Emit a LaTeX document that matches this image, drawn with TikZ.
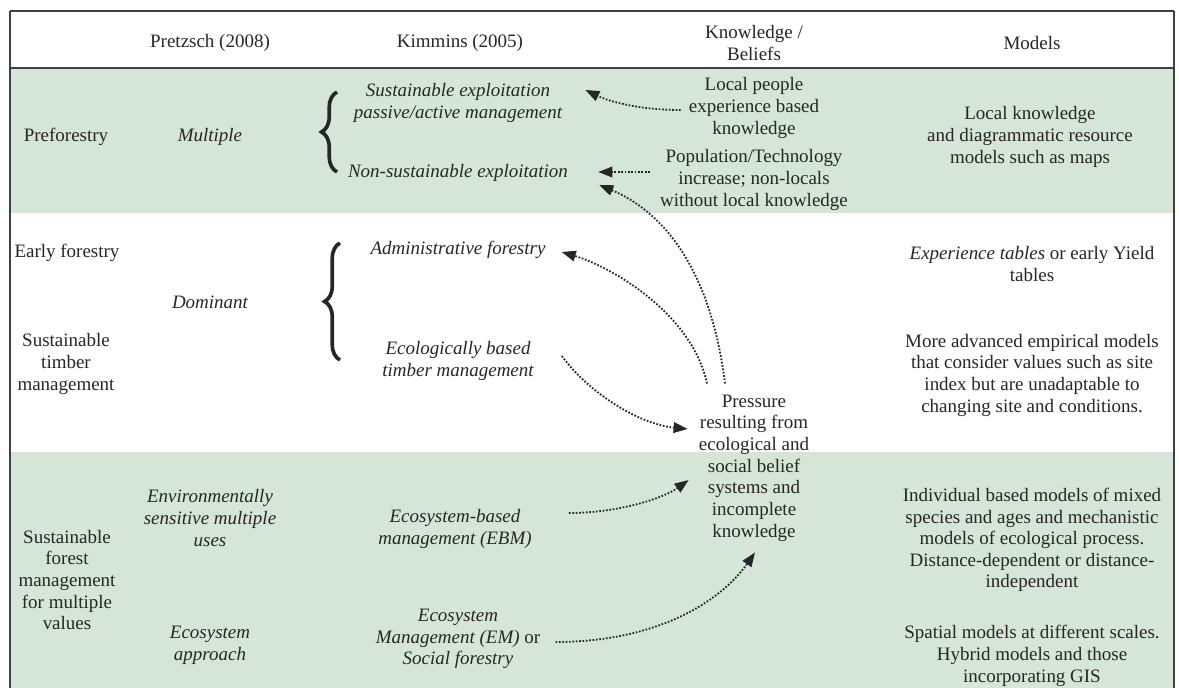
\documentclass[tikz,border=0pt]{standalone}
\usepackage{fontspec}
\setmainfont{Liberation Serif}
\usetikzlibrary{arrows.meta}
\usetikzlibrary{decorations.pathreplacing}
\definecolor{rowgreen}{RGB}{213,230,217}
\definecolor{ink}{RGB}{38,38,38}
\tikzset{%
  t/.style = {align=center,inner sep=0pt,text=ink,
        font=\fontsize{13.5}{15.4}\selectfont},
  ti/.style = {t,font=\fontsize{13.5}{15.4}\selectfont\itshape},
  dotarrow/.style = {-{Triangle[length=10pt,width=7.5pt]},ink,
        line width=1.3pt,dash pattern=on 1.2pt off 1.2pt},
  bigbrace/.style = {decorate,decoration={brace,amplitude=11pt},
        line width=2.6pt,ink},
  frame/.style = {line width=1.3pt,black!75}
}

\begin{document}
\begin{tikzpicture}[x=0.025cm,y=-0.025cm]
   \useasboundingbox (0,0) rectangle (1179,688);
   % bands of the table
   \fill[rowgreen] (10,68) rectangle (1174,213);
   \fill[rowgreen] (10,452) rectangle (1174,688);
   \draw[frame] (10,11) -- (1174,11);
   \draw[frame] (10,68) -- (1174,68);
   \draw[frame] (10,11) -- (10,688);
   \draw[frame,line width=2pt] (1174,11) -- (1174,688);

   % header
   \node[t] (hdprz) at (210,43) {Pretzsch (2008)};
   \node[t] (hdkim) at (460,43) {Kimmins (2005)};
   \node[t] (hdknw) at (754,43) {Knowledge /\\Beliefs};
   \node[t] (hdmod) at (1032,43) {Models};

   % preforestry
   \node[t] (pref) at (66,137) {Preforestry};
   \node[ti] (mult) at (210,137) {Multiple};
   \node[ti] (sustexp) at (458,103) {Sustainable exploitation\\passive/active management};
   \node[ti] (nonsust) at (458,173) {Non-sustainable exploitation};
   \node[t] (local) at (754,108) {Local people\\experience based\\knowledge};
   \node[t] (poptech) at (754,180) {Population/Technology\\increase; non-locals\\without local knowledge};
   \node[t] (locmod) at (1030,137) {Local knowledge\\and diagrammatic resource\\models such as maps};

   % early forestry
   \node[t] (early) at (67,253) {Early forestry};
   \node[t] (stm) at (66,364) {Sustainable\\timber\\management};
   \node[ti] (domin) at (210,302) {Dominant};
   \node[ti] (admin) at (458,250) {Administrative forestry};
   \node[ti] (ecotim) at (458,361) {Ecologically based\\timber management};
   \node[t] (exptab) at (1032,264) {\textit{Experience tables} or early Yield\\tables};
   \node[t] (advmod) at (1032,375) {More advanced empirical models\\that consider values such as site\\index but are unadaptable to\\changing site and conditions.};

   \node[t] (press) at (754,468) {Pressure\\resulting from\\ecological and\\social belief\\systems and\\incomplete\\knowledge};

   % sustainable forest management
   \node[t] (sfm) at (67,580) {Sustainable\\forest\\management\\for multiple\\values};
   \node[ti] (envsens) at (210,518) {Environmentally\\sensitive multiple\\uses};
   \node[ti] (ecoapp) at (210,645) {Ecosystem\\approach};
   \node[ti] (ebm) at (455,529) {Ecosystem-based\\management (EBM)};
   \node[t] (emsoc) at (458,639) {\textit{Ecosystem}\\\textit{Management (EM)} or\\\textit{Social forestry}};
   \node[t] (indmod) at (1032,540) {Individual based models of mixed\\species and ages and mechanistic\\models of ecological process.\\Distance-dependent or distance-\\independent};
   \node[t] (spatmod) at (1032,656) {Spatial models at different scales.\\Hybrid models and those\\incorporating GIS};

   \draw[bigbrace] (337,172) -- (337,92);
   \draw[bigbrace] (340,360) -- (340,243);

   \draw[dotarrow] ([shift={(-8,2)}]local.west) .. controls +(-40,0) and +(25,12) .. ([shift={(23,-13)}]sustexp.east);
   \draw[dotarrow] ([shift={(-10,-8)}]poptech.west) -- ([shift={(30,-1)}]nonsust.east);
   \draw[dotarrow] ([shift={(-29,-11)}]press.north) .. controls +(-15,-120) and +(60,25) .. ([shift={(31,12)}]nonsust.east);
   \draw[dotarrow] ([shift={(-47,-11)}]press.north) .. controls +(-15,-70) and +(50,15) .. ([shift={(16,2)}]admin.east);
   \draw[dotarrow] ([shift={(28,-5)}]ecotim.east) .. controls +(25,35) and +(-50,-5) .. ([shift={(-11,-39)}]press.west);
   \draw[dotarrow] ([shift={(37,-16)}]ebm.east) .. controls +(50,0) and +(-25,18) .. ([shift={(-10,12)}]press.west);
   \draw[dotarrow] ([shift={(15,3)}]emsoc.east) .. controls +(100,0) and +(-35,50) .. ([shift={(1,11)}]press.south);
\end{tikzpicture}
\end{document}
